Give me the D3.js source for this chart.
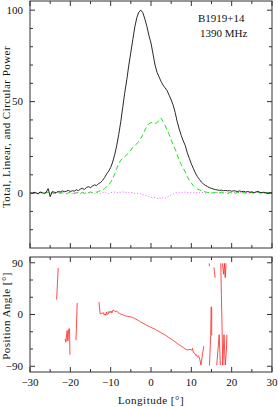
<!DOCTYPE html>
<html>
<head>
<meta charset="utf-8">
<script src="https://cdn.jsdelivr.net/npm/d3@7"></script>
<style>
  body { margin: 0; background: #fff; }
  text { font-family: "Liberation Serif", serif; font-size: 11px; fill: #111; }
</style>
</head>
<body>
<svg id="chart" width="278" height="407"></svg>
<script>
// Data
// longitude grid of the profile, degrees
const lon = d3.range(-30, 30.001, 0.5);

// total intensity (black)
const totalI = [
  0.3, -0.2, 0.5, 0.1, -0.3, 0.6, 0.2, -0.1, 0.4, 2.5,
  -2.0, 0.8, 0.5, 0.3, 0.9, 0.6, 1.2, 0.8, 1.0, 1.5,
  0.9, 1.3, 1.1, 1.8, 1.4, 2.2, 2.6, 2.0, 3.1, 3.5,
  3.0, 3.8, 4.5, 4.1, 5.2, 5.8, 7.0, 8.5, 10.5, 12,
  14, 17, 21, 26, 32, 39, 47, 55, 62, 70,
  77, 84, 91, 96, 99, 100, 98.5, 95, 91, 86,
  82, 76, 70, 66, 63.5, 61, 59, 57.5, 56, 53.5,
  51, 48, 44, 39, 35, 31.5, 28.5, 26, 22, 19,
  16, 13.5, 11, 9, 7.5, 6, 5, 4.2, 3.6, 3.0,
  2.6, 2.2, 1.9, 1.7, 1.5, 1.6, 1.3, 1.5, 1.2, 1.4,
  1.0, 1.3, 1.1, 0.9, 1.2, 0.8, 1.0, 0.6, 0.9, 0.5,
  0.7, 0.3, 0.6, 1.0, 0.4, 0.2, 0.5, 0.1, -0.2, 0.3,
  0.0
];

// linear polarization (green dashed)
const linearL = [
  0.2, -0.3, 0.4, 0, -0.4, 0.3, 0.5, -0.2, 0.1, 0.6,
  -0.5, 0.2, -0.3, 0.1, 0.4, -0.2, 0.3, 0, -0.4, 0.2,
  0.5, 0.1, -0.3, 0.2, 0.4, 0, 0.3, -0.2, 0.5, 0.2,
  0.6, 0.3, 0.8, 0.5, 1.0, 1.2, 1.8, 2.5, 3.5, 4.5,
  6, 8, 10.5, 13.5, 16, 18, 19, 20, 21, 22,
  23.5, 25, 26, 27, 28.5, 30, 32, 34.5, 36.5, 38,
  38.5, 38.5, 38, 38.5, 40, 41, 39, 37, 34.5, 32,
  29, 26.5, 24, 21, 18, 15.5, 13.5, 11.5, 9, 7,
  5.5, 4, 3, 2.2, 1.8, 1.4, 1.0, 0.6, 0.4, 0.2,
  0.3, 0.1, 0.4, -0.2, 0.3, 0.5, 0, 0.2, -0.3, 0.4,
  0.1, 0.3, -0.1, 0.5, 0.2, 0, 0.4, -0.2, 0.3, 0.1,
  0.4, -0.1, 0.2, 0.5, 0, 0.3, -0.2, 0.4, 0.1, 0.2,
  0
];

// circular polarization (magenta dotted)
const circularV = [
  0.3, -0.2, 0.1, 0.4, -0.3, 0.2, 0, -0.4, 0.3, 0.1,
  -0.2, 0.5, 0, -0.3, 0.2, 0.4, -0.1, 0.2, -0.3, 0.1,
  0.3, -0.2, 0.4, 0, 0.2, -0.3, 0.1, 0.5, -0.1, 0.2,
  0, 0.3, -0.2, 0.4, 0.1, -0.3, 0.2, 0.5, 0, -0.2,
  0.4, 0.3, 0.6, 0.2, 0.5, 0.4, 0.7, 0.3, 0.5, 0.2,
  0.4, 0.1, -0.2, 0, -0.5, -0.3, -0.8, -1.2, -1.5, -1.9,
  -2.2, -2.6, -2.3, -2.9, -2.5, -3.0, -2.4, -2.8, -2.1, -1.6,
  -1.0, -0.5, 0, 0.3, 0.1, 0.5, 0.3, 0.6, 0.2, 0.4,
  0.5, 0.2, 0.4, 0.1, 0.3, 0.5, 0.2, 0.0, 0.4, 0.3,
  0.1, 0.4, 0.2, 0.5, 0.0, 0.3, 0.2, 0.4, 0.1, 0.3,
  0.2, 0.5, 0.1, 0.3, 0.4, 0.0, 0.2, 0.3, 0.1, 0.4,
  0.2, 0.0, 0.3, 0.5, 0.1, 0.2, 0.4, 0.0, 0.2, 0.1,
  0.0
];

// position angle segments [longitude, PA deg]
const paSegments = [
  [[-23.4, 26], [-23.0, 81]],
  [[-21.3, -42], [-21.1, -48], [-20.8, -28], [-20.6, -46], [-20.4, -25], [-20.2, -25], [-20.1, -70]],
  [[-18.6, -45], [-18.3, 20]],
  [[-12.9, 22], [-12.6, 1], [-12.2, 2], [-11.8, 3], [-11.6, -1], [-11.4, 1], [-11.2, -1.5], [-11.0, 4.5],
   [-10.8, 0], [-10.6, 1], [-10.4, 5.5], [-10.2, 3], [-9.9, 6], [-9.7, 2.5], [-9.5, 7], [-9.2, 7.5],
   [-8.9, 5], [-8.5, 6], [-8.1, 3], [-7.7, 1.5], [-7.2, 0], [-6.8, -1], [-6.4, -2.5], [-5.8, -3],
   [-5.2, -4], [-4.6, -5], [-4, -7], [-3.4, -9.5], [-2.8, -12], [-2.2, -14.5], [-1.5, -17], [-1, -19],
   [-0.4, -21], [0.2, -23], [0.8, -25], [1.4, -27.5], [2, -29.5], [2.6, -32], [3.2, -34.5], [3.8, -37],
   [4.4, -40], [5.1, -43], [5.6, -45.5], [6.2, -48.5], [6.8, -52], [7.4, -54.5], [8, -57.5], [8.8, -61],
   [9.3, -61.5], [9.7, -60.5], [10.1, -62], [10.3, -59], [10.5, -66], [10.9, -68], [11.1, -71], [11.3, -70],
   [11.5, -74], [11.8, -72], [12.1, -78], [12.4, -88], [12.7, -72], [13.1, -55]],
  [[14.4, 89], [14.5, 84]],
  [[15.6, 82], [15.9, 64]],
  [[14.5, -89], [14.8, -36], [14.9, 13], [15.05, 13], [15.05, -36], [15.15, -36]],
  [[16.3, -88], [16.9, -35], [17.2, -88]],
  [[17.3, 89], [17.8, -88], [18.1, -35], [18.4, -88], [18.7, -62], [18.8, -35]],
  [[17.7, 89], [18.0, 70], [18.2, 89], [18.4, 64], [18.6, 89]]
];

const sourceLabel = "B1919+14";
const freqLabel = "1390 MHz";

// Setup
const svg = d3.select("#chart");
const frameColor = "#333";

const x = d3.scaleLinear().domain([-30, 30]).range([30, 272]);
const yTop = d3.scaleLinear().domain([-30, 105]).range([248, 1]);
const yPa = d3.scaleLinear().domain([-100, 100]).range([372, 257]);

const fmt = d3.format("d");

// frame with inward ticks on all four sides
function drawFrame(yScale, yMajor, yMinor, xLabels) {
  const g = svg.append("g");
  const [x0, x1] = x.range();
  const [y0, y1] = yScale.range();
  g.append("rect")
    .attr("x", x0).attr("y", y1)
    .attr("width", x1 - x0).attr("height", y0 - y1)
    .attr("fill", "none").attr("stroke", frameColor).attr("stroke-width", 1);

  const xTicks = d3.range(-30, 30.001, 5);
  xTicks.forEach(v => {
    const len = v % 10 === 0 ? 5 : 3;
    const px = x(v);
    g.append("line").attr("x1", px).attr("x2", px).attr("y1", y0).attr("y2", y0 - len)
      .attr("stroke", frameColor);
    g.append("line").attr("x1", px).attr("x2", px).attr("y1", y1).attr("y2", y1 + len)
      .attr("stroke", frameColor);
  });

  const ySet = yMinor.map(v => ({ v, len: yMajor.includes(v) ? 5 : 3 }));
  ySet.forEach(d => {
    const py = yScale(d.v);
    g.append("line").attr("x1", x0).attr("x2", x0 + d.len).attr("y1", py).attr("y2", py)
      .attr("stroke", frameColor);
    g.append("line").attr("x1", x1).attr("x2", x1 - d.len).attr("y1", py).attr("y2", py)
      .attr("stroke", frameColor);
  });

  yMajor.forEach(v => {
    g.append("text")
      .attr("x", x0 - 7).attr("y", yScale(v)).attr("dy", "0.35em")
      .attr("text-anchor", "end")
      .text(fmt(v));
  });

  if (xLabels) {
    d3.range(-30, 30.001, 10).forEach(v => {
      g.append("text")
        .attr("x", x(v)).attr("y", y0 + 14)
        .attr("text-anchor", "middle")
        .text(fmt(v));
    });
  }
  return g;
}

drawFrame(yTop, [0, 50, 100], d3.range(-20, 105, 10), false);
drawFrame(yPa, [-90, 0, 90], [-90, -60, -30, 0, 30, 60, 90], true);

// Profiles
const profile = lon.map((l, i) => ({ l, I: totalI[i], L: linearL[i], V: circularV[i] }));

function drawProfile(key, color, dash, width) {
  const line = d3.line().x(d => x(d.l)).y(d => yTop(d[key]));
  svg.append("path")
    .datum(profile)
    .attr("d", line)
    .attr("fill", "none")
    .attr("stroke", color)
    .attr("stroke-width", width)
    .attr("stroke-dasharray", dash);
}

drawProfile("V", "#ff55ff", "1 2", 1);
drawProfile("L", "#22dd22", "5 3", 1);
drawProfile("I", "#111", null, 0.9);

// Position angle
const paLine = d3.line().x(d => x(d[0])).y(d => yPa(d[1]));
svg.append("g").selectAll("path")
  .data(paSegments)
  .join("path")
  .attr("d", paLine)
  .attr("fill", "none")
  .attr("stroke", "#ff2020")
  .attr("stroke-width", 0.8);

// Labels
svg.append("text").attr("x", 198).attr("y", 22).text(sourceLabel);
svg.append("text").attr("x", 200).attr("y", 37).text(freqLabel);

svg.append("text")
  .attr("x", 151).attr("y", 404)
  .attr("text-anchor", "middle")
  .attr("letter-spacing", "0.5")
  .text("Longitude [°]");

svg.append("text")
  .attr("transform", `translate(10,${127}) rotate(-90)`)
  .attr("text-anchor", "middle")
  .attr("letter-spacing", "0.45")
  .text("Total, Linear, and Circular Power");

svg.append("text")
  .attr("transform", `translate(10,${316}) rotate(-90)`)
  .attr("text-anchor", "middle")
  .attr("letter-spacing", "0.45")
  .text("Position Angle [°]");
</script>
</body>
</html>
